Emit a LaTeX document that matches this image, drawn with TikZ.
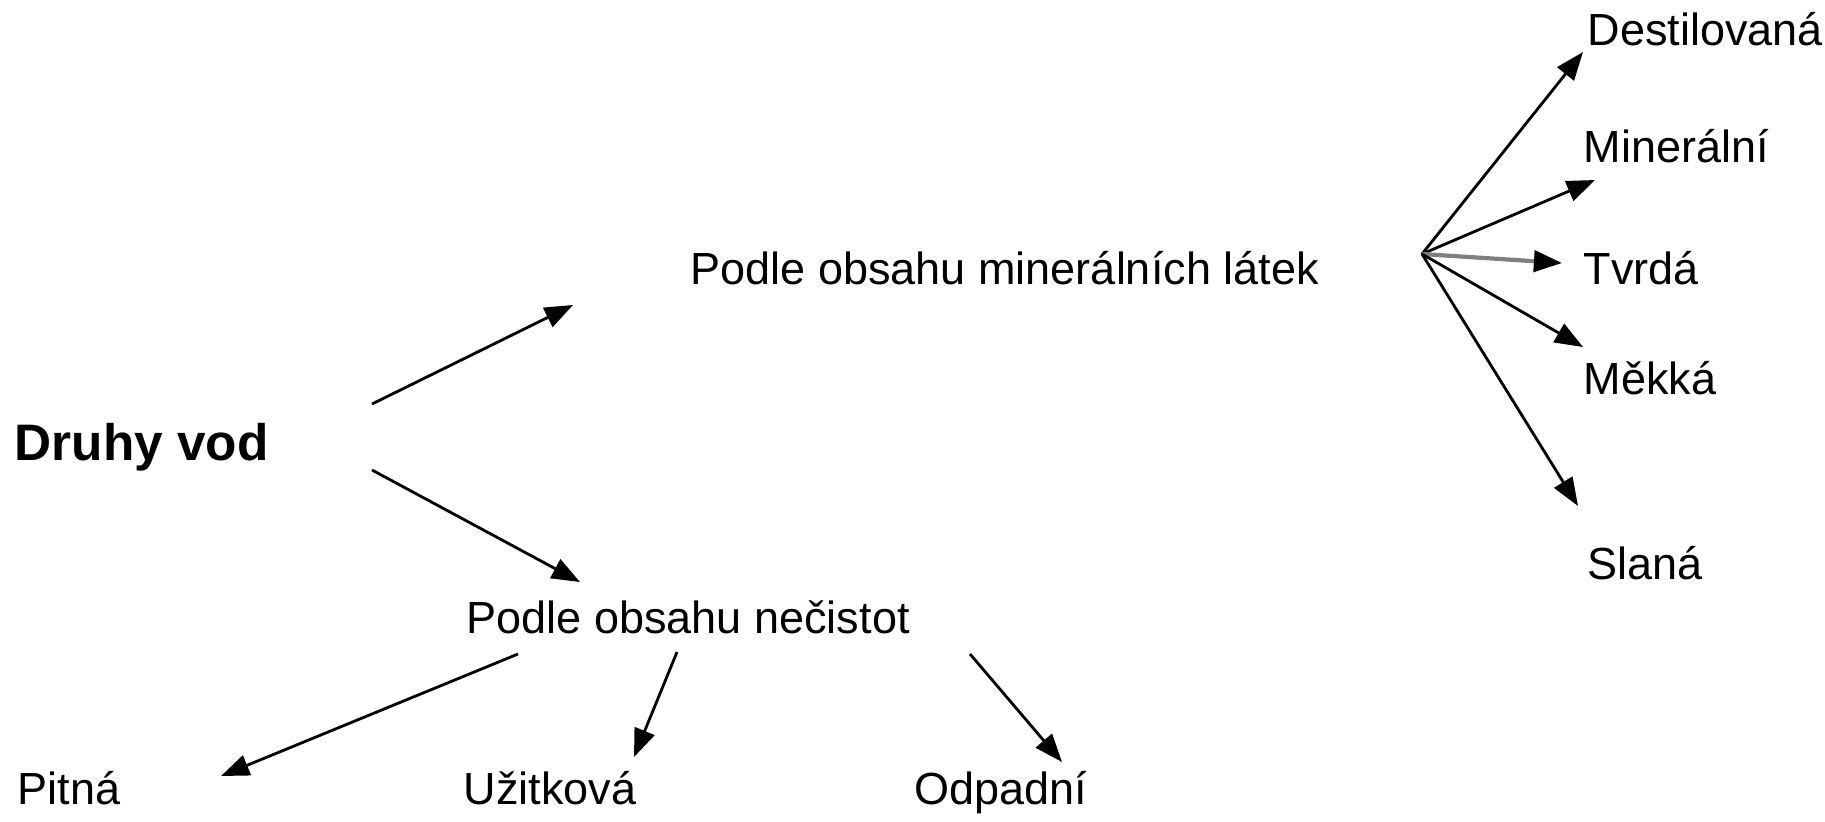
\documentclass[tikz,border=0pt]{standalone}
\usepackage{fontspec}
\setmainfont{Liberation Sans}
\usetikzlibrary{arrows.meta}
\begin{document}
\begin{tikzpicture}[x=0.01cm,y=-0.01cm,
	lbl/.style={anchor=base west,inner sep=0pt,font=\fontsize{12.8}{16}\selectfont},
	arr/.style={line width=0.8pt,-{Triangle[length=8pt,width=6pt,color=black]}}]
				\useasboundingbox (0,0) rectangle (1825,821);
				\coordinate (D1) at (372,404);
				\coordinate (D2) at (573,305);
				\coordinate (D3) at (372,470);
				\coordinate (D4) at (580,582);
				\coordinate (M0) at (1422,254);
				\coordinate (M1) at (1583,52);
				\coordinate (M2) at (1595,180);
				\coordinate (M3) at (1562,263);
				\coordinate (M4) at (1583,347);
				\coordinate (M5) at (1578,506);
				\coordinate (N1) at (518,654);
				\coordinate (N2) at (677,652);
				\coordinate (N3) at (970,654);
				\coordinate (P1) at (221,776);
				\coordinate (U1) at (634,757);
				\coordinate (O1) at (1062,762);
				\node[lbl,font=\fontsize{14.6}{17}\selectfont\bfseries] (druhy) at (14,460) {Druhy vod};
				\node[lbl] (mineral) at (690,284) {Podle obsahu minerálních látek};
				\node[lbl] (necist) at (466,633) {Podle obsahu nečistot};
				\node[lbl] (destil) at (1587,45) {Destilovaná};
				\node[lbl] (minerni) at (1583,162) {Minerální};
				\node[lbl] (tvrda) at (1583,284) {Tvrdá};
				\node[lbl] (mekka) at (1583,394) {Měkká};
				\node[lbl] (slana) at (1587,579) {Slaná};
				\node[lbl] (pitna) at (17,804) {Pitná};
				\node[lbl] (uzit) at (463,804) {Užitková};
				\node[lbl] (odpad) at (914,804) {Odpadní};
				\draw[arr] (D1) -- (D2);
				\draw[arr] (D3) -- (D4);
				\draw[arr] (M0) -- (M1);
				\draw[arr] (M0) -- (M2);
				\draw[arr,gray,line width=1.2pt] (M0) -- (M3);
				\draw[arr] (M0) -- (M4);
				\draw[arr] (M0) -- (M5);
				\draw[arr] (N1) -- (P1);
				\draw[arr] (N2) -- (U1);
				\draw[arr] (N3) -- (O1);
\end{tikzpicture}
\end{document}
